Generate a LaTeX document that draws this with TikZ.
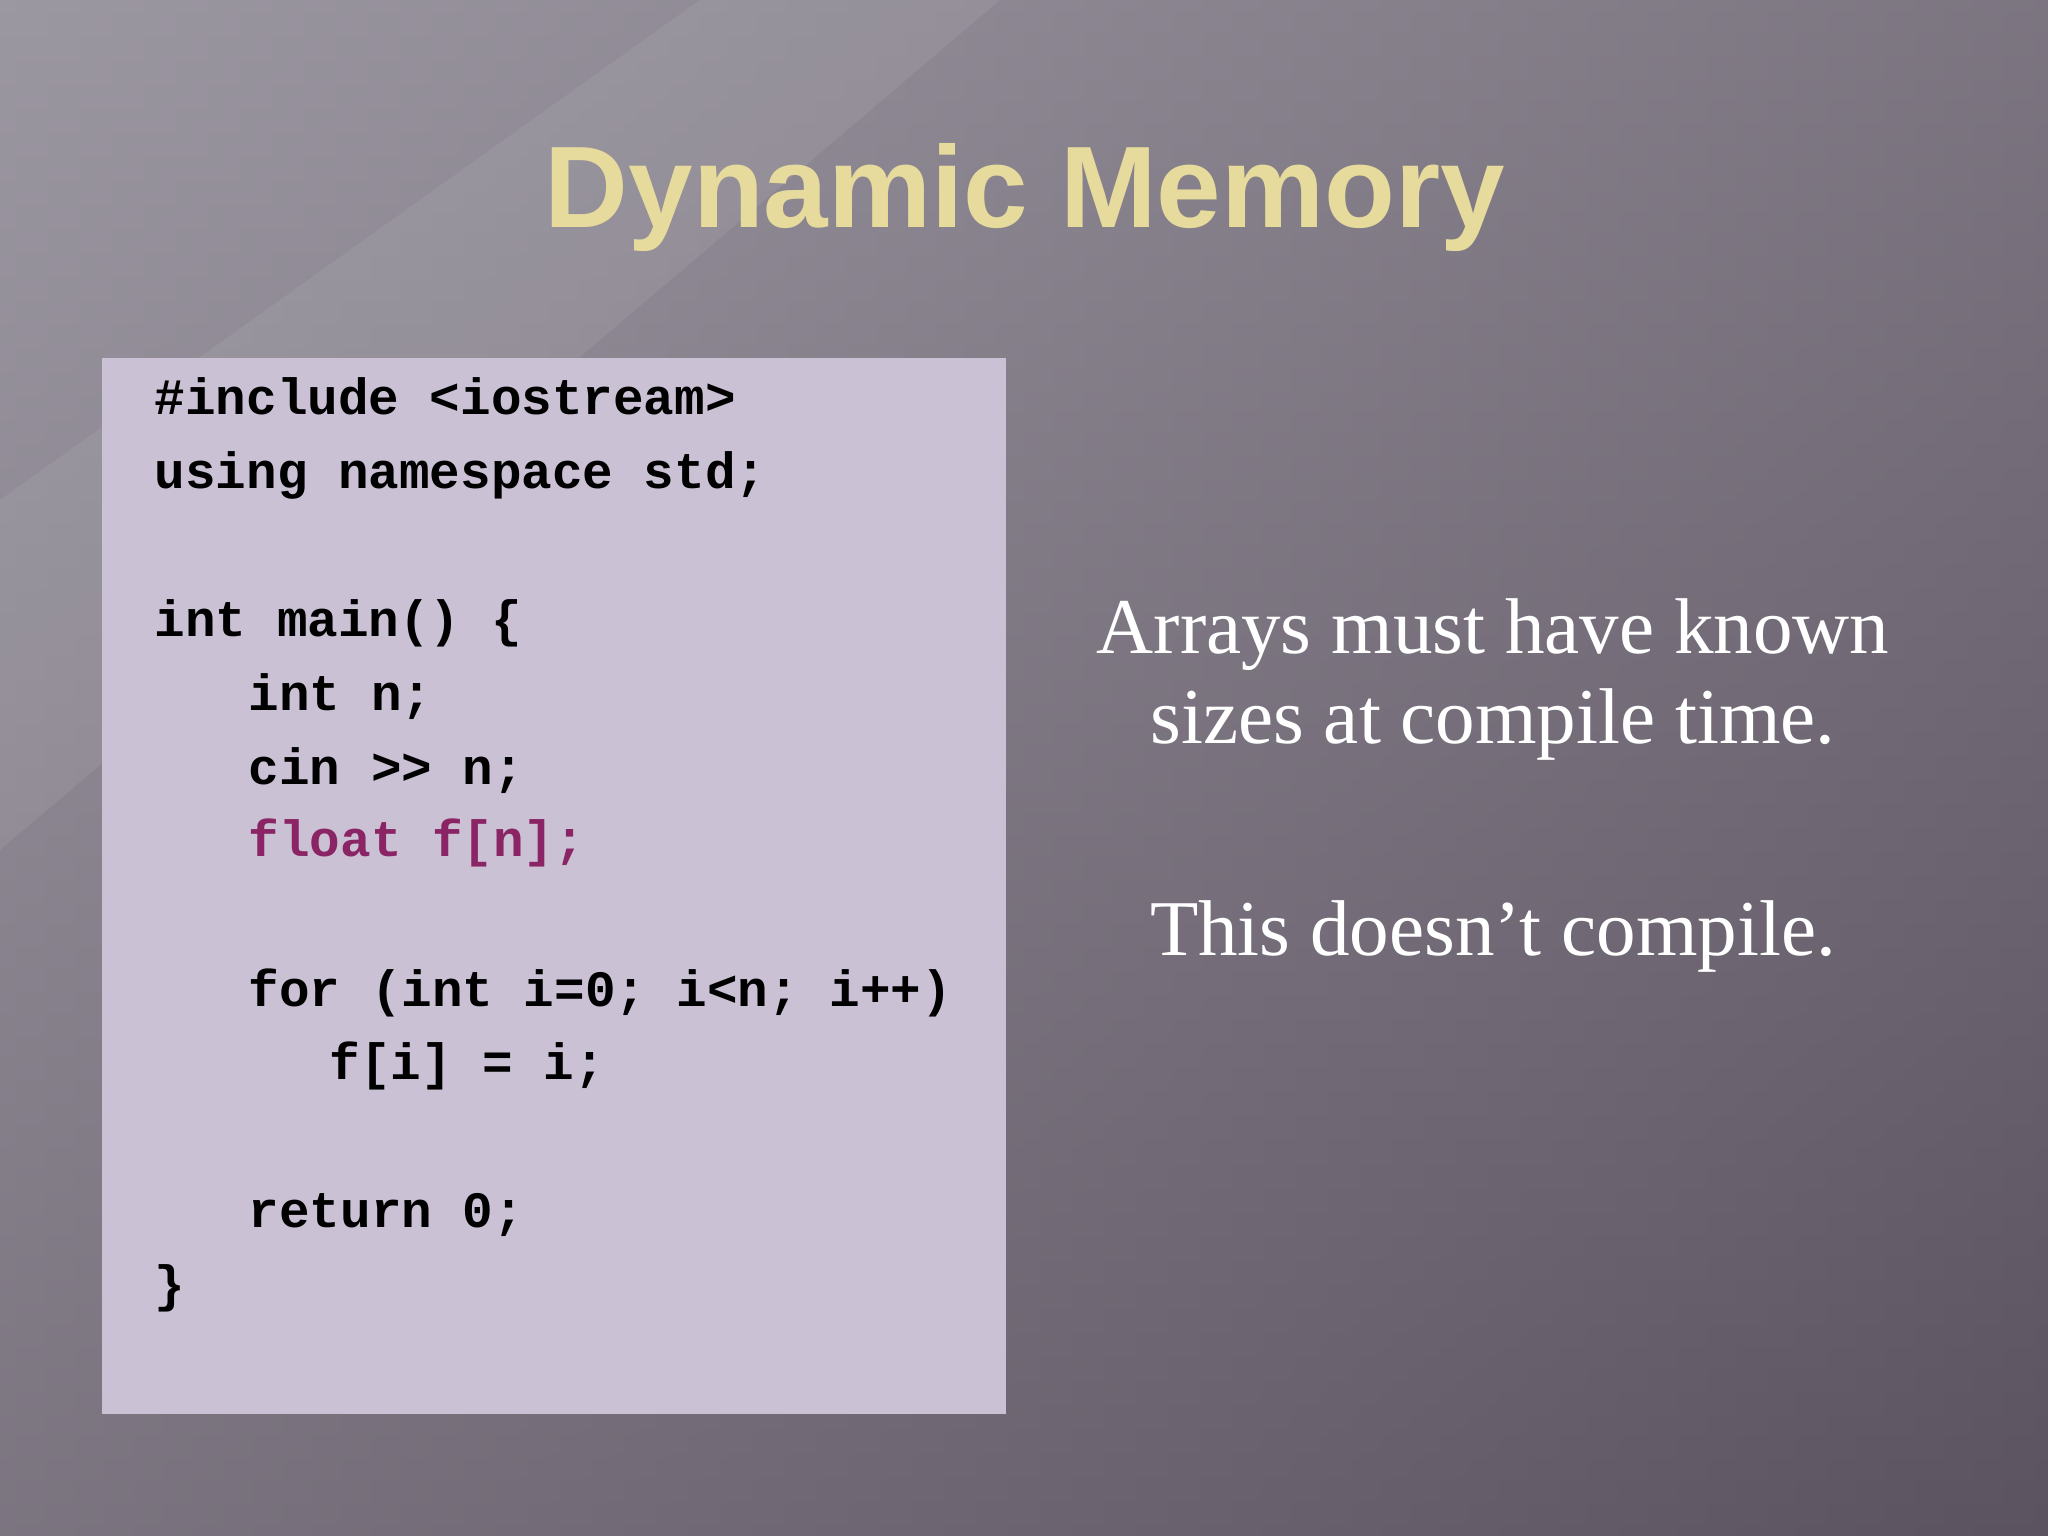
\documentclass[tikz,border=0pt]{standalone}
\usepackage{fontspec}
\setmainfont{Liberation Serif}
\setmonofont{Liberation Mono}
\newfontfamily\titlefont{Liberation Sans}
\definecolor{bgdark}{HTML}{5C5360}
\definecolor{bglight}{HTML}{9C98A2}
\definecolor{boxfill}{HTML}{CBC1D4}
\definecolor{titlecol}{HTML}{E6DA9C}
\definecolor{hl}{HTML}{8A2464}
\tikzset{code/.style={anchor=base west,inner sep=0pt,font=\ttfamily\bfseries\fontsize{14.5}{16}\selectfont},
 side/.style={anchor=base,inner sep=0pt,text=white,font=\fontsize{22.5}{26}\selectfont}}
\begin{document}
\begin{tikzpicture}[x=1cm,y=-1cm]
\useasboundingbox (0,0) rectangle (20.48,15.36);
\shade[left color=bglight,right color=bgdark] (0,0) rectangle (20.48,15.36);
\shade[top color=bglight,bottom color=bgdark,opacity=0.5] (0,0) rectangle (20.48,15.36);
\fill[white,opacity=0.07] (0,5) -- (7,0) -- (10,0) -- (0,8.5) -- cycle;
\node (title) [inner sep=0pt,text=titlecol,font=\titlefont\bfseries\fontsize{33}{40}\selectfont] at (10.25,1.98) {Dynamic Memory};
\fill[boxfill] (1.02,3.58) rectangle (10.06,14.14);
\node (l1) [code] at (1.54,4.15) {\#include <iostream>};
\node (l2) [code] at (1.54,4.89) {using namespace std;};
\node (l3) [code] at (1.54,6.37) {int main() \{};
\node (l4) [code] at (2.48,7.10) {int n;};
\node (l5) [code] at (2.48,7.84) {cin >> n;};
\node (l6) [code,text=hl] at (2.48,8.57) {float f[n];};
\node (l7) [code] at (2.48,10.06) {for (int i=0; i<n; i++)};
\node (l8) [code] at (3.29,10.79) {f[i] = i;};
\node (l9) [code] at (2.48,12.27) {return 0;};
\node (l10) [code] at (1.54,13.01) {\}};
\node (s1) [side] at (14.93,6.54) {Arrays must have known};
\node (s2) [side] at (14.93,7.43) {sizes at compile time.};
\node (s3) [side] at (14.93,9.55) {This doesn’t compile.};
\end{tikzpicture}
\end{document}
